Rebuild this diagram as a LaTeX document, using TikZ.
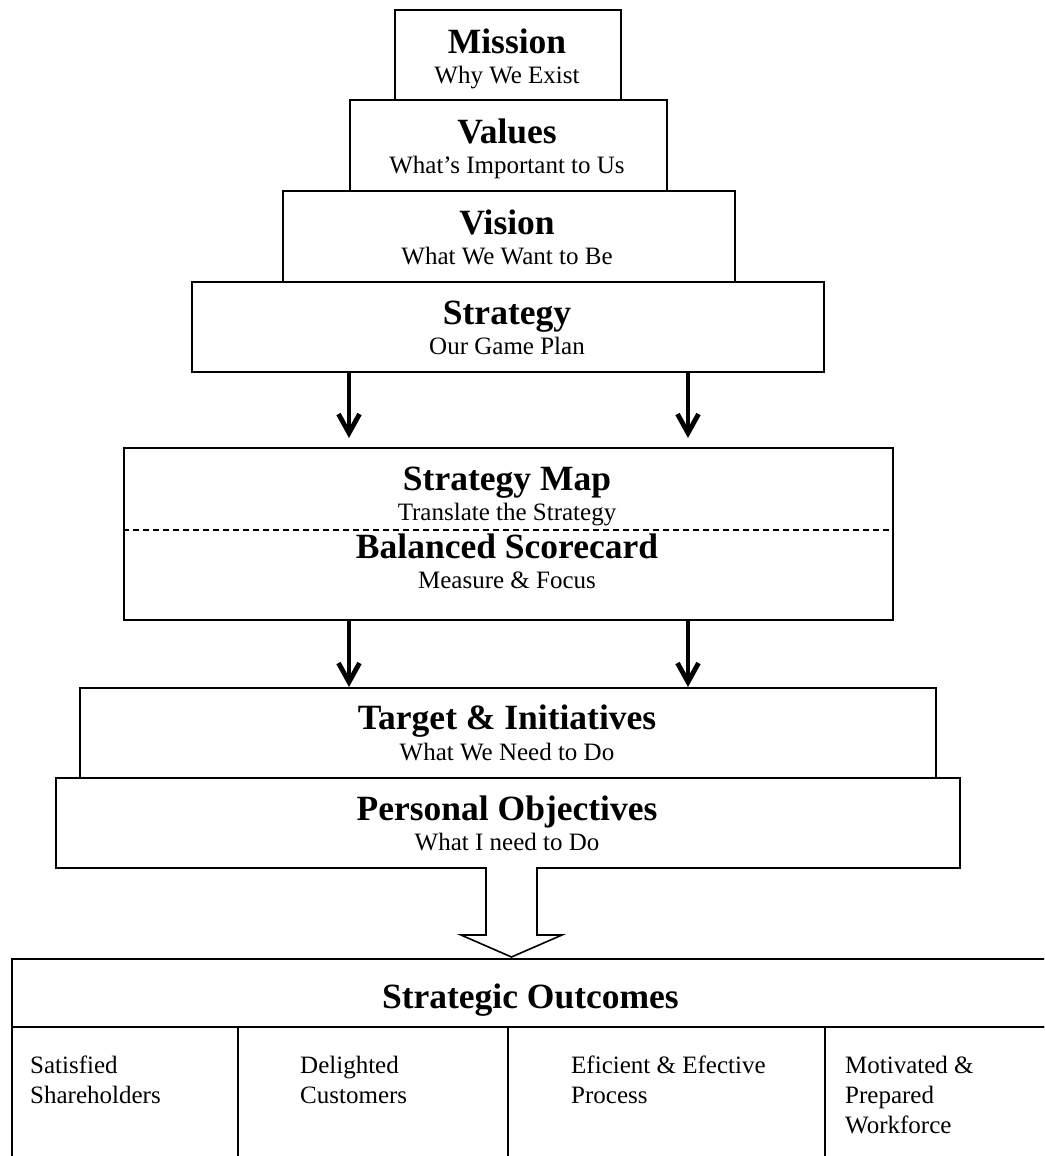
\documentclass[tikz,border=0pt]{standalone}
\usepackage{fontspec}
\setmainfont{Liberation Serif}
\usetikzlibrary{arrows.meta}
\begin{document}
\begin{tikzpicture}[x=1pt,y=-1pt,
  box/.style={draw,line width=2pt,inner sep=0pt,anchor=north west},
  obox/.style={draw,line width=1.8pt,inner sep=0pt,anchor=north west},
  ttl/.style={anchor=base,font=\fontsize{35.5}{40}\selectfont\bfseries,inner sep=0pt},
  sub/.style={anchor=base,font=\fontsize{25}{30}\selectfont,inner sep=0pt},
  cell/.style={anchor=base west,font=\fontsize{25}{30}\selectfont,inner sep=0pt},
  arr/.style={line width=4.8pt,-{Straight Barb[length=19pt,width=21pt]}},
  hollow/.style={line width=1.6pt,fill=white,line join=miter}]
\useasboundingbox (0,0) rectangle (1044,1156);
\clip (0,0) rectangle (1044,1156);
\fill[white] (0,0) rectangle (1044,1156);

% pyramid boxes
\node[box,minimum width=226pt,minimum height=90pt] (mission) at (394,9) {};
\node[box,minimum width=317pt,minimum height=91pt] (values) at (349,99) {};
\node[box,minimum width=452pt,minimum height=91pt] (vision) at (282,190) {};
\node[box,minimum width=632pt,minimum height=90pt] (strategy) at (191,281) {};
\node[box,minimum width=769pt,minimum height=172pt] (smap) at (123,447) {};
\node[box,minimum width=856pt,minimum height=90pt] (target) at (79,687) {};
\node[box,minimum width=904pt,minimum height=90pt] (personal) at (55,777) {};

% dashed divider
\draw[line width=2pt,dash pattern=on 6pt off 4pt] (smap.west |- 0,529.5) coordinate (dl) -- (smap.east |- dl);

% texts
\node[ttl] (t1) at (507,53) {Mission};
\node[sub] (s1) at (507,83) {Why We Exist};
\node[ttl] (t2) at (507,143) {Values};
\node[sub] (s2) at (507,173) {What’s Important to Us};
\node[ttl] (t3) at (507,234) {Vision};
\node[sub] (s3) at (507,264) {What We Want to Be};
\node[ttl] (t4) at (507,324) {Strategy};
\node[sub] (s4) at (507,354) {Our Game Plan};
\node[ttl] (t5) at (507,490) {Strategy Map};
\node[sub] (s5) at (507,520) {Translate the Strategy};
\node[ttl] (t6) at (507,558) {Balanced Scorecard};
\node[sub] (s6) at (507,588) {Measure \& Focus};
\node[ttl] (t7) at (507,729) {Target \& Initiatives};
\node[sub] (s7) at (507,760) {What We Need to Do};
\node[ttl] (t8) at (507,820) {Personal Objectives};
\node[sub] (s8) at (507,850) {What I need to Do};

% arrows
\coordinate (xl) at (349,0);
\coordinate (xr) at (688,0);
\draw[arr] (strategy.south -| xl) -- ([yshift=9pt]smap.north -| xl);
\draw[arr] (strategy.south -| xr) -- ([yshift=9pt]smap.north -| xr);
\draw[arr] (smap.south -| xl) -- (target.north -| xl);
\draw[arr] (smap.south -| xr) -- (target.north -| xr);

% strategic outcomes
\node[obox,minimum width=1037pt,minimum height=68pt] (outh) at (11,958) {};
\node[obox,minimum width=226pt,minimum height=160pt] (c1) at (11,1026) {};
\node[obox,minimum width=270pt,minimum height=160pt] (c2) at (237,1026) {};
\node[obox,minimum width=317pt,minimum height=160pt] (c3) at (507,1026) {};
\node[obox,minimum width=224pt,minimum height=160pt] (c4) at (824,1026) {};
\node[ttl] (t9) at (outh.center |- 0,1008) {Strategic Outcomes};
\node[cell] (d1) at (30,1073) {\begin{tabular}[t]{@{}l@{}}Satisfied\\Shareholders\end{tabular}};
\node[cell] (d2) at (300,1073) {\begin{tabular}[t]{@{}l@{}}Delighted\\Customers\end{tabular}};
\node[cell] (d3) at (571,1073) {\begin{tabular}[t]{@{}l@{}}Eficient \& Efective\\Process\end{tabular}};
\node[cell] (d4) at (845,1073) {\begin{tabular}[t]{@{}l@{}}Motivated \&\\Prepared\\Workforce\end{tabular}};

% hollow block arrow
\draw[hollow] (486,867) -- (486,935) -- (461,935) -- (511.5,957) -- (562,935) -- (537,935) -- (537,867);
\end{tikzpicture}
\end{document}
